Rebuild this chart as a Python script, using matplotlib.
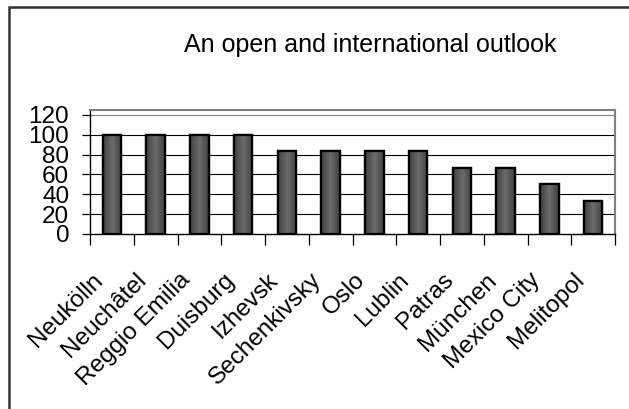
import matplotlib
matplotlib.use("Agg")
import matplotlib.pyplot as plt
import matplotlib.transforms as mtransforms
import numpy as np
from matplotlib.patches import Rectangle
from matplotlib.ticker import FixedLocator

plt.rcParams["font.family"] = ["Liberation Sans", "DejaVu Sans"]

cities = ["Neukölln", "Neuchâtel", "Reggio Emilia", "Duisburg", "Izhevsk", "Sechenkivsky",
          "Oslo", "Lublin", "Patras", "München", "Mexico City", "Melitopol"]
scores = [100, 100, 100, 100, 83.3, 83.3, 83.3, 83.3, 66.7, 66.7, 50, 33.3]
y_ticks = [0, 20, 40, 60, 80, 100, 120]
title = "An open and international outlook"

W, H = 629, 409
fig = plt.figure(figsize=(W / 100, H / 100), dpi=100)
ax = fig.add_axes([90 / W, 1 - 234 / H, (615 - 90) / W, (234 - 110) / H])

x = list(range(len(cities)))
for v in y_ticks[1:]:
    ax.axhline(v, color="black" if v < 120 else "#808080", lw=0.8, zorder=0)
bars = ax.bar(x, scores, width=0.42, color="#575757", edgecolor="black", linewidth=1.6, zorder=2)

# shaded fill like the old Excel bars: darker sides, lighter middle
shade = 1 - np.abs(np.linspace(-1, 1, 64))[None, :]
for bar in bars:
    x0, w, h = bar.get_x(), bar.get_width(), bar.get_height()
    im = ax.imshow(shade, extent=[x0, x0 + w, 0, h], cmap="gray", vmin=-1.47, vmax=4.41,
                   aspect="auto", zorder=2.5, interpolation="bilinear")
    im.set_clip_path(bar)
    ax.add_patch(Rectangle((x0, 0), w, h, fill=False, edgecolor="black", linewidth=1.6, zorder=3))

ax.set_xlim(-0.5, len(cities) - 0.5)
ax.set_ylim(0, 125)
ax.set_yticks(y_ticks)
ax.tick_params(axis="y", direction="out", length=6, width=0.9, pad=9, labelsize=17.5)

ax.set_xticks(x)
ax.set_xticklabels([])
ax.tick_params(axis="x", which="major", length=0)
ax.xaxis.set_minor_locator(FixedLocator([i - 0.5 for i in range(len(cities) + 1)]))
ax.tick_params(axis="x", which="minor", direction="out", length=8, width=0.9)

offset = mtransforms.ScaledTranslation(-20 / 100, -35 / 100, fig.dpi_scale_trans)
for i, name in enumerate(cities):
    ax.text(i, 0, name, rotation=45, ha="right", va="top", rotation_mode="anchor",
            fontsize=17.5, transform=ax.get_xaxis_transform() + offset)

for side in ["top", "right"]:
    ax.spines[side].set_color("#808080")
    ax.spines[side].set_linewidth(1.5)
for side in ["left", "bottom"]:
    ax.spines[side].set_color("black")
    ax.spines[side].set_linewidth(1.0)

fig.text(370 / W, 1 - 45 / H, title, ha="center", va="center", fontsize=18)

fig.patches.append(Rectangle((9 / W, -0.1), 1.2, 1.1 - 7 / H, transform=fig.transFigure,
                             fill=False, edgecolor="#333333", linewidth=1.8))

fig.savefig("out.png", dpi=100)
